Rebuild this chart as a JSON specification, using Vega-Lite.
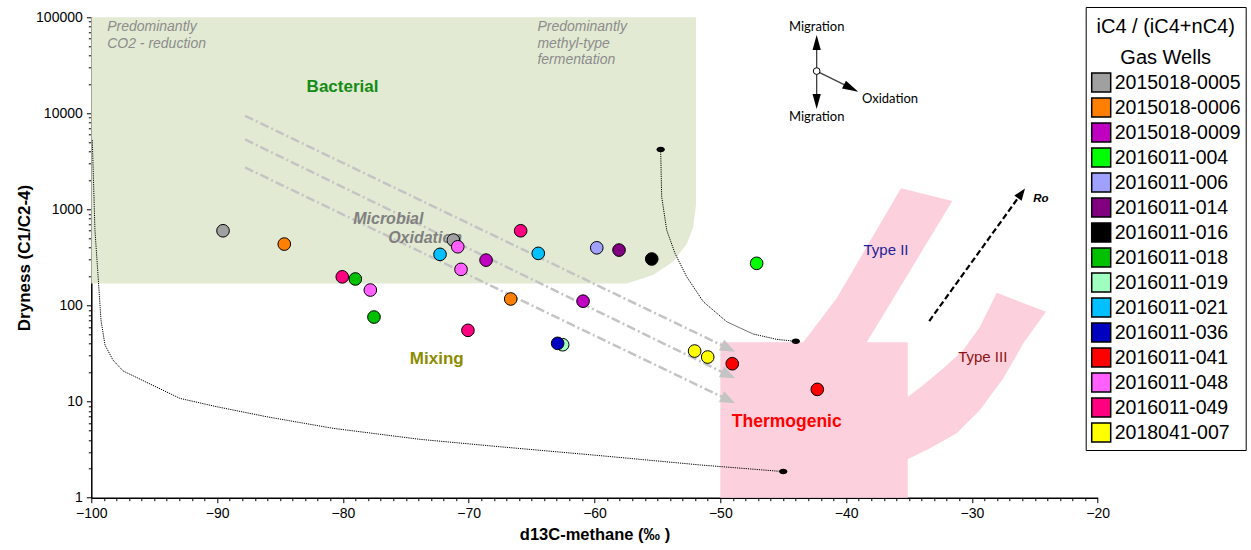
{
  "$schema": "https://vega.github.io/schema/vega-lite/v6.json",
  "width": 1006.4,
  "height": 480.4,
  "autosize": {"type": "none"},
  "padding": {"left": 91.3, "top": 17.3, "right": 153.3, "bottom": 52.3},
  "config": {"view": {"stroke": null}, "font": "Liberation Sans", "axis": {"grid": false}},
  "encoding": {
    "x": {
      "field": "x", "type": "quantitative",
      "scale": {"domain": [-100, -20], "nice": false, "zero": false},
      "axis": {
        "title": "d13C-methane (‰ )",
        "values": [-100,-99,-98,-97,-96,-95,-94,-93,-92,-91,-90,-89,-88,-87,-86,-85,-84,-83,-82,-81,-80,-79,-78,-77,-76,-75,-74,-73,-72,-71,-70,-69,-68,-67,-66,-65,-64,-63,-62,-61,-60,-59,-58,-57,-56,-55,-54,-53,-52,-51,-50,-49,-48,-47,-46,-45,-44,-43,-42,-41,-40,-39,-38,-37,-36,-35,-34,-33,-32,-31,-30,-29,-28,-27,-26,-25,-24,-23,-22,-21,-20],
        "format": "d",
        "labelExpr": "datum.value % 10 === 0 ? datum.label : ''",
        "tickSize": {"condition": {"test": "datum.value % 10 === 0", "value": 5}, "value": 3},
        "labelOverlap": false, "labelFlush": false,
        "domainColor": "black", "domainWidth": 1.5, "tickColor": "black", "tickWidth": 1,
        "labelColor": "black", "labelFontSize": 14, "labelPadding": 4,
        "titleColor": "black", "titleFontSize": 16.5, "titleFontWeight": "bold", "titlePadding": 6
      }
    },
    "y": {
      "field": "y", "type": "quantitative",
      "scale": {"type": "log", "domain": [1, 100000], "nice": false},
      "axis": {
        "title": "Dryness (C1/C2-4)",
        "values": [1,2,3,4,5,6,7,8,9,10,20,30,40,50,60,70,80,90,100,200,300,400,500,600,700,800,900,1000,2000,3000,4000,5000,6000,7000,8000,9000,10000,20000,30000,40000,50000,60000,70000,80000,90000,100000],
        "format": "d",
        "labelExpr": "indexof([1,10,100,1000,10000,100000], datum.value) >= 0 ? datum.label : ''",
        "tickSize": {"condition": {"test": "indexof([1,10,100,1000,10000,100000], datum.value) >= 0", "value": 5}, "value": 3},
        "labelOverlap": false, "labelFlush": false,
        "domainColor": "black", "domainWidth": 1.5, "tickColor": "black", "tickWidth": 1,
        "labelColor": "black", "labelFontSize": 14, "labelPadding": 4,
        "titleColor": "black", "titleFontSize": 17, "titleFontWeight": "bold", "titlePadding": 2
      }
    }
  },
  "layer": [
    {
      "data": {"values": [
        {"i": 0, "x": -100, "y": 100000},
        {"i": 1, "x": -51.93, "y": 100000},
        {"i": 2, "x": -51.93, "y": 1111},
        {"i": 3, "x": -52.15, "y": 656},
        {"i": 4, "x": -52.67, "y": 437},
        {"i": 5, "x": -53.76, "y": 286},
        {"i": 6, "x": -55.35, "y": 208},
        {"i": 7, "x": -57.44, "y": 170},
        {"i": 8, "x": -100, "y": 170}
      ]},
      "mark": {"type": "line", "filled": true, "fill": "#e2ead3", "strokeWidth": 0},
      "encoding": {"order": {"field": "i", "type": "quantitative"}}
    },
    {
      "data": {"values": [
        {"i": 0, "x": -50, "y": 1},
        {"i": 1, "x": -50, "y": 41.4},
        {"i": 2, "x": -43.4, "y": 41.4},
        {"i": 3, "x": -40.75, "y": 118.8},
        {"i": 4, "x": -35.64, "y": 1660},
        {"i": 5, "x": -31.56, "y": 1222},
        {"i": 6, "x": -38.36, "y": 41.4},
        {"i": 7, "x": -35.1, "y": 41.4},
        {"i": 8, "x": -35.1, "y": 11.2},
        {"i": 9, "x": -33.86, "y": 14.9},
        {"i": 10, "x": -32.27, "y": 22.2},
        {"i": 11, "x": -30.68, "y": 34.4},
        {"i": 12, "x": -29.36, "y": 60.1},
        {"i": 13, "x": -28.03, "y": 136},
        {"i": 14, "x": -24.11, "y": 86.2},
        {"i": 15, "x": -25.91, "y": 40.4},
        {"i": 16, "x": -27.5, "y": 17.5},
        {"i": 17, "x": -29.36, "y": 8.18},
        {"i": 18, "x": -31.21, "y": 4.68},
        {"i": 19, "x": -33.33, "y": 3.27},
        {"i": 20, "x": -35.1, "y": 2.51},
        {"i": 21, "x": -35.1, "y": 1}
      ]},
      "mark": {"type": "line", "filled": true, "fill": "#fdd0de", "strokeWidth": 0},
      "encoding": {"order": {"field": "i", "type": "quantitative"}}
    },
    {
      "data": {"values": [
        {"c": "a", "i": 0, "x": -99.92, "y": 5270},
        {"c": "a", "i": 1, "x": -99.71, "y": 611},
        {"c": "a", "i": 2, "x": -99.44, "y": 184},
        {"c": "a", "i": 3, "x": -99.23, "y": 70.6},
        {"c": "a", "i": 4, "x": -98.91, "y": 38.8},
        {"c": "a", "i": 5, "x": -98.28, "y": 27.1},
        {"c": "a", "i": 6, "x": -97.46, "y": 20.8},
        {"c": "a", "i": 7, "x": -92.95, "y": 10.8},
        {"c": "a", "i": 8, "x": -90.03, "y": 8.85},
        {"c": "a", "i": 9, "x": -86.06, "y": 6.96},
        {"c": "a", "i": 10, "x": -80.76, "y": 5.27},
        {"c": "a", "i": 11, "x": -73.87, "y": 4.05},
        {"c": "a", "i": 12, "x": -67.51, "y": 3.39},
        {"c": "a", "i": 13, "x": -59.56, "y": 2.74},
        {"c": "a", "i": 14, "x": -51.57, "y": 2.19},
        {"c": "a", "i": 15, "x": -45.0, "y": 1.87},
        {"c": "b", "i": 0, "x": -54.74, "y": 4220},
        {"c": "b", "i": 1, "x": -54.66, "y": 1356},
        {"c": "b", "i": 2, "x": -54.26, "y": 610},
        {"c": "b", "i": 3, "x": -53.6, "y": 349},
        {"c": "b", "i": 4, "x": -52.67, "y": 199},
        {"c": "b", "i": 5, "x": -51.35, "y": 109.6},
        {"c": "b", "i": 6, "x": -49.49, "y": 67.8},
        {"c": "b", "i": 7, "x": -47.38, "y": 50.5},
        {"c": "b", "i": 8, "x": -45.52, "y": 44.5},
        {"c": "b", "i": 9, "x": -44.0, "y": 42.4}
      ]},
      "mark": {"type": "line", "color": "black", "strokeWidth": 1, "strokeDash": [1.2, 1]},
      "encoding": {"detail": {"field": "c"}, "order": {"field": "i", "type": "quantitative"}}
    },
    {
      "data": {"values": [
        {"x": -45.0, "y": 1.87},
        {"x": -54.74, "y": 4220},
        {"x": -44.0, "y": 42.4}
      ]},
      "mark": {"type": "point", "shape": "M-1,0A1,0.65,0,1,0,1,0A1,0.65,0,1,0,-1,0Z", "size": 70, "filled": true, "color": "black", "opacity": 1}
    },
    {
      "data": {"values": [
        {"a": 1, "i": 0, "x": -87.78, "y": 9440},
        {"a": 1, "i": 1, "x": -49.36, "y": 35.8},
        {"a": 2, "i": 0, "x": -87.78, "y": 5360},
        {"a": 2, "i": 1, "x": -49.36, "y": 18.9},
        {"a": 3, "i": 0, "x": -87.78, "y": 2742},
        {"a": 3, "i": 1, "x": -49.36, "y": 10.4}
      ]},
      "mark": {"type": "line", "color": "#c4c4c4", "strokeWidth": 2.5, "strokeDash": [9, 3, 2, 3]},
      "encoding": {"detail": {"field": "a"}, "order": {"field": "i", "type": "quantitative"}}
    },
    {
      "data": {"values": [
        {"x": -49.36, "y": 35.8},
        {"x": -49.36, "y": 18.9},
        {"x": -49.36, "y": 10.4}
      ]},
      "mark": {"type": "point", "shape": "M1,0L-1,0.8L-1,-0.8Z", "size": 225, "angle": 25.8, "filled": true, "color": "#c4c4c4", "opacity": 1}
    },
    {
      "data": {"values": [
        {"i": 0, "x": -33.39, "y": 69.0},
        {"i": 1, "x": -26.06, "y": 1474}
      ]},
      "mark": {"type": "line", "color": "black", "strokeWidth": 2.2, "strokeDash": [6, 3]},
      "encoding": {"order": {"field": "i", "type": "quantitative"}}
    },
    {
      "data": {"values": [{"x": -26.06, "y": 1474}]},
      "mark": {"type": "point", "shape": "M1,0L-1,0.75L-1,-0.75Z", "size": 144, "angle": 305.8, "filled": true, "color": "black", "opacity": 1}
    },
    {
      "data": {"values": [
        {"s": "v", "i": 0, "x": -42.34, "y": 54580},
        {"s": "v", "i": 1, "x": -42.34, "y": 13330},
        {"s": "o", "i": 0, "x": -42.34, "y": 27560},
        {"s": "o", "i": 1, "x": -39.6, "y": 18290}
      ]},
      "mark": {"type": "line", "color": "#404040", "strokeWidth": 1.3},
      "encoding": {"detail": {"field": "s"}, "order": {"field": "i", "type": "quantitative"}}
    },
    {
      "data": {"values": [{"x": -42.34, "y": 54580}]},
      "mark": {"type": "point", "shape": "M0,-1L0.55,1L-0.55,1Z", "size": 225, "filled": true, "color": "black", "opacity": 1}
    },
    {
      "data": {"values": [{"x": -42.34, "y": 13330}]},
      "mark": {"type": "point", "shape": "M0,1L0.55,-1L-0.55,-1Z", "size": 225, "filled": true, "color": "black", "opacity": 1}
    },
    {
      "data": {"values": [{"x": -39.6, "y": 18290}]},
      "mark": {"type": "point", "shape": "M1,0L-1,0.55L-1,-0.55Z", "size": 256, "angle": 26.5, "filled": true, "color": "black", "opacity": 1}
    },
    {
      "data": {"values": [{"x": -42.34, "y": 27560}]},
      "mark": {"type": "point", "shape": "circle", "size": 45, "filled": true, "fill": "white", "stroke": "black", "strokeWidth": 1, "opacity": 1}
    },
    {
      "data": {"values": [
        {"x": -42.34, "y": 79700, "t": "Migration"},
        {"x": -42.34, "y": 9080, "t": "Migration"},
        {"x": -36.51, "y": 13990, "t": "Oxidation"}
      ]},
      "mark": {"type": "text", "font": "Lato", "fontSize": 13, "color": "black", "align": "center", "baseline": "middle"},
      "encoding": {"text": {"field": "t"}}
    },
    {
      "data": {"values": [
        {"x": -98.74, "y": 79650, "t": "Predominantly"},
        {"x": -98.74, "y": 52240, "t": "CO2 - reduction"},
        {"x": -64.54, "y": 79650, "t": "Predominantly"},
        {"x": -64.54, "y": 52240, "t": "methyl-type"},
        {"x": -64.54, "y": 35860, "t": "fermentation"}
      ]},
      "mark": {"type": "text", "fontSize": 14, "fontStyle": "italic", "color": "#8c8c8c", "align": "left", "baseline": "middle"},
      "encoding": {"text": {"field": "t"}}
    },
    {
      "data": {"values": [{"x": -80.03, "y": 18650, "t": "Bacterial"}]},
      "mark": {"type": "text", "fontSize": 17, "fontWeight": "bold", "color": "#138c13", "align": "center", "baseline": "middle"},
      "encoding": {"text": {"field": "t"}}
    },
    {
      "data": {"values": [
        {"x": -76.39, "y": 794, "t": "Microbial"},
        {"x": -73.47, "y": 508, "t": "Oxidation"}
      ]},
      "mark": {"type": "text", "fontSize": 16, "fontWeight": "bold", "fontStyle": "italic", "color": "#808080", "align": "center", "baseline": "middle"},
      "encoding": {"text": {"field": "t"}}
    },
    {
      "data": {"values": [{"x": -72.54, "y": 27.7, "t": "Mixing"}]},
      "mark": {"type": "text", "fontSize": 17, "fontWeight": "bold", "color": "#8c8c00", "align": "center", "baseline": "middle"},
      "encoding": {"text": {"field": "t"}}
    },
    {
      "data": {"values": [{"x": -44.72, "y": 6.18, "t": "Thermogenic"}]},
      "mark": {"type": "text", "fontSize": 17.5, "fontWeight": "bold", "color": "#ff0000", "align": "center", "baseline": "middle"},
      "encoding": {"text": {"field": "t"}}
    },
    {
      "data": {"values": [{"x": -36.83, "y": 378, "t": "Type II"}]},
      "mark": {"type": "text", "fontSize": 15, "color": "#1e1e96", "align": "center", "baseline": "middle"},
      "encoding": {"text": {"field": "t"}}
    },
    {
      "data": {"values": [{"x": -29.14, "y": 29.3, "t": "Type III"}]},
      "mark": {"type": "text", "fontSize": 15, "color": "#8c1414", "align": "center", "baseline": "middle"},
      "encoding": {"text": {"field": "t"}}
    },
    {
      "data": {"values": [{"x": -24.51, "y": 1274, "t": "Ro"}]},
      "mark": {"type": "text", "fontSize": 11.5, "fontWeight": "bold", "fontStyle": "italic", "color": "black", "align": "center", "baseline": "middle"},
      "encoding": {"text": {"field": "t"}}
    },
    {
      "data": {"values": [
        {"well": "2015018-0005", "x": -89.53, "y": 600},
        {"well": "2015018-0005", "x": -71.22, "y": 480},
        {"well": "2015018-0006", "x": -84.66, "y": 436},
        {"well": "2015018-0006", "x": -66.66, "y": 117},
        {"well": "2015018-0009", "x": -68.62, "y": 297},
        {"well": "2015018-0009", "x": -60.91, "y": 111},
        {"well": "2016011-004", "x": -47.11, "y": 275},
        {"well": "2016011-006", "x": -59.82, "y": 399},
        {"well": "2016011-014", "x": -58.05, "y": 378},
        {"well": "2016011-016", "x": -55.45, "y": 305},
        {"well": "2016011-018", "x": -79.01, "y": 189},
        {"well": "2016011-018", "x": -77.53, "y": 75.9},
        {"well": "2016011-019", "x": -62.53, "y": 39.1},
        {"well": "2016011-021", "x": -72.28, "y": 341},
        {"well": "2016011-021", "x": -64.47, "y": 349},
        {"well": "2016011-036", "x": -62.93, "y": 40.4},
        {"well": "2016011-041", "x": -49.05, "y": 24.8},
        {"well": "2016011-041", "x": -42.29, "y": 13.4},
        {"well": "2016011-048", "x": -77.82, "y": 145},
        {"well": "2016011-048", "x": -70.87, "y": 409},
        {"well": "2016011-048", "x": -70.61, "y": 238},
        {"well": "2016011-049", "x": -80.05, "y": 199},
        {"well": "2016011-049", "x": -70.06, "y": 55.2},
        {"well": "2016011-049", "x": -65.87, "y": 600},
        {"well": "2018041-007", "x": -52.04, "y": 33.6},
        {"well": "2018041-007", "x": -51.0, "y": 29.1}
      ]},
      "mark": {"type": "point", "shape": "circle", "filled": true, "size": 160, "stroke": "black", "strokeWidth": 1, "opacity": 1},
      "encoding": {
        "color": {
          "field": "well", "type": "nominal",
          "scale": {
            "domain": ["2015018-0005","2015018-0006","2015018-0009","2016011-004","2016011-006","2016011-014","2016011-016","2016011-018","2016011-019","2016011-021","2016011-036","2016011-041","2016011-048","2016011-049","2018041-007"],
            "range": ["#a0a0a0","#ff8000","#c000c0","#00ff00","#a0a0ff","#800080","#000000","#00c000","#a0ffc0","#00c0ff","#0000c0","#ff0000","#ff60ff","#ff0080","#ffff00"]
          },
          "legend": {
            "title": ["iC4 / (iC4+nC4)", "Gas Wells"],
            "orient": "none", "legendX": 994.4, "legendY": -10.3,
            "padding": 5, "strokeColor": "black", "fillColor": "white",
            "titleFontSize": 20, "titleFontWeight": "normal", "titleColor": "black",
            "titleAnchor": "middle", "titleAlign": "center", "titleLineHeight": 31, "titleBaseline": "line-top", "titlePadding": 9,
            "labelFontSize": 19.5, "labelColor": "black", "labelOffset": 3, "labelLimit": 300,
            "symbolType": "square", "symbolSize": 361, "symbolStrokeColor": "black", "symbolStrokeWidth": 1.5, "symbolOpacity": 1,
            "rowPadding": 0
          }
        }
      }
    }
  ]
}
